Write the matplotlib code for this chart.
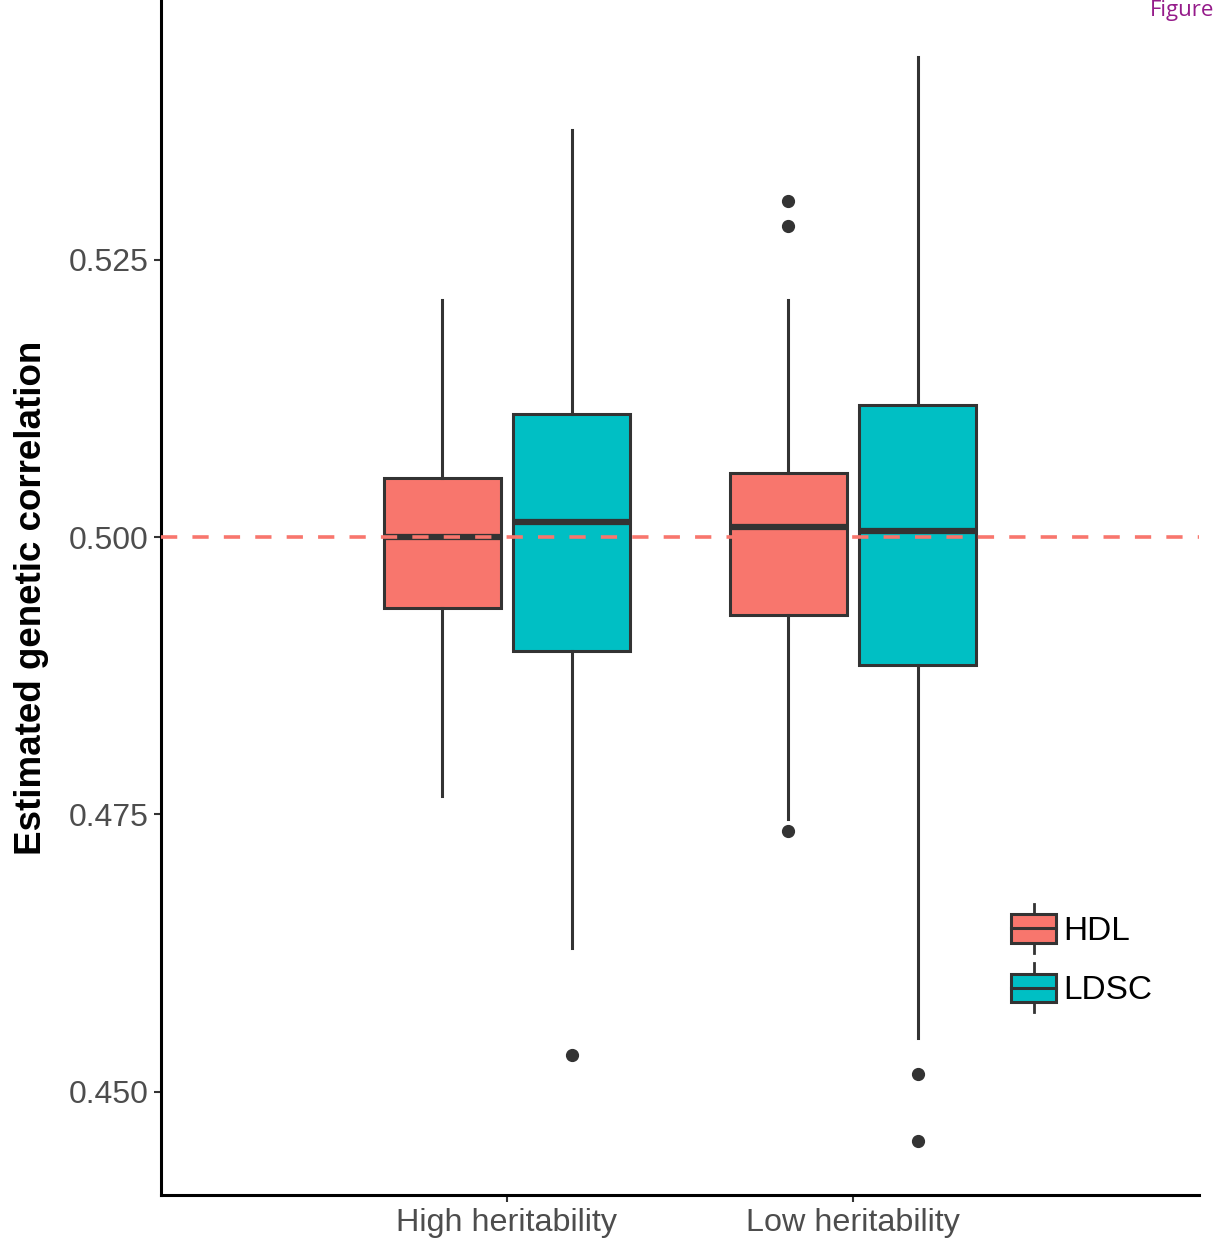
import matplotlib
matplotlib.use('Agg')
import matplotlib.pyplot as plt
import matplotlib.patches as mpatches
from matplotlib.lines import Line2D
from matplotlib.legend_handler import HandlerBase

plt.rcParams['font.family'] = ['Liberation Sans', 'DejaVu Sans']

# =========================
# Dados
# =========================
grupos = ['High heritability', 'Low heritability']
metodos = ['HDL', 'LDSC']
cores = {'HDL': '#F8766D', 'LDSC': '#00BFC4'}

# [grupo][metodo] -> (whislo, q1, med, q3, whishi)
hdl_stats = [
    (0.47665, 0.49360, 0.50000, 0.50532, 0.52137),
    (0.47458, 0.49297, 0.50090, 0.50577, 0.52137),
]
ldsc_stats = [
    (0.46295, 0.48972, 0.50135, 0.51109, 0.53669),
    (0.45484, 0.48846, 0.50054, 0.51190, 0.54327),
]
hdl_outliers = [[], [0.53029, 0.52804, 0.47350]]
ldsc_outliers = [[0.45330], [0.45159, 0.44555]]

valor_verdadeiro = 0.5
yticks = [0.450, 0.475, 0.500, 0.525]

# =========================
# Figura
# =========================
fig = plt.figure(figsize=(12.14, 12.43), dpi=100)
ax = fig.add_axes([161 / 1214, 1 - 1195 / 1243, (1199 - 161) / 1214, 1195 / 1243])

offset = 0.1875
largura = 0.338
edge = '#333333'

for metodo, stats, outs, sinal in [('HDL', hdl_stats, hdl_outliers, -1),
                                   ('LDSC', ldsc_stats, ldsc_outliers, 1)]:
    bxp = []
    for s, o in zip(stats, outs):
        bxp.append({'whislo': s[0], 'q1': s[1], 'med': s[2], 'q3': s[3],
                    'whishi': s[4], 'fliers': o})
    pos = [i + 1 + sinal * offset for i in range(len(grupos))]
    ax.bxp(bxp, positions=pos, widths=largura, patch_artist=True,
           showcaps=False,
           boxprops=dict(facecolor=cores[metodo], edgecolor=edge, linewidth=2.2),
           whiskerprops=dict(color=edge, linewidth=2.2),
           medianprops=dict(color=edge, linewidth=4.5, solid_capstyle='butt'),
           flierprops=dict(marker='o', markerfacecolor=edge, markeredgecolor=edge,
                           markersize=8.5, linestyle='none'),
           manage_ticks=False)

ax.axhline(valor_verdadeiro, color='#F8766D', linewidth=2.6, linestyle=(0, (4.5, 4.2)),
           zorder=5)

ax.set_xlim(0, 3)
ax.set_ylim(0.4407, 0.5484)
ax.set_xticks([1, 2])
ax.set_xticklabels(grupos, fontsize=23.3, color='#4D4D4D')
ax.set_yticks(yticks)
ax.set_yticklabels([f'{v:.3f}' for v in yticks], fontsize=23, color='#4D4D4D')
ax.tick_params(axis='both', length=5, width=1.5, color='#333333', pad=4)
ax.set_ylabel('Estimated genetic correlation', fontsize=26.5, fontweight='bold', labelpad=14)

for lado in ['top', 'right']:
    ax.spines[lado].set_visible(False)
for lado in ['left', 'bottom']:
    ax.spines[lado].set_linewidth(2.2)
    ax.spines[lado].set_color('black')


# Legenda com ícone de boxplot
class HandlerBox(HandlerBase):
    def create_artists(self, legend, orig_handle, xdescent, ydescent,
                       width, height, fontsize, trans):
        cor = orig_handle.get_facecolor()
        bw = width
        bh = height
        y0 = -ydescent
        x0 = -xdescent
        cx = x0 + bw / 2
        ext = height * 0.35
        whisk_top = Line2D([cx, cx], [y0 + bh, y0 + bh + ext],
                           color=edge, linewidth=2, transform=trans)
        whisk_bot = Line2D([cx, cx], [y0 - ext, y0],
                           color=edge, linewidth=2, transform=trans)
        rect = mpatches.Rectangle((x0, y0), bw, bh, facecolor=cor,
                                  edgecolor=edge, linewidth=2.2, transform=trans)
        med = Line2D([x0, x0 + bw], [y0 + bh / 2, y0 + bh / 2],
                     color=edge, linewidth=2.2, transform=trans)
        return [whisk_top, whisk_bot, rect, med]


handles = [mpatches.Patch(facecolor=cores[m], label=m) for m in metodos]
leg = ax.legend(handles=handles, labels=metodos, handler_map={mpatches.Patch: HandlerBox()},
                loc='center left', bbox_to_anchor=(0.803, 0.1965), frameon=False,
                fontsize=24, handlelength=1.35, handleheight=0.95, handletextpad=0.2,
                labelspacing=0.8, borderpad=0)

fig.text(1150 / 1214, 1.0, 'Figure', color='#951B8A', fontsize=16,
         ha='left', va='top', family=['Open Sans', 'DejaVu Sans'])

fig.savefig('out.png', dpi=100)
